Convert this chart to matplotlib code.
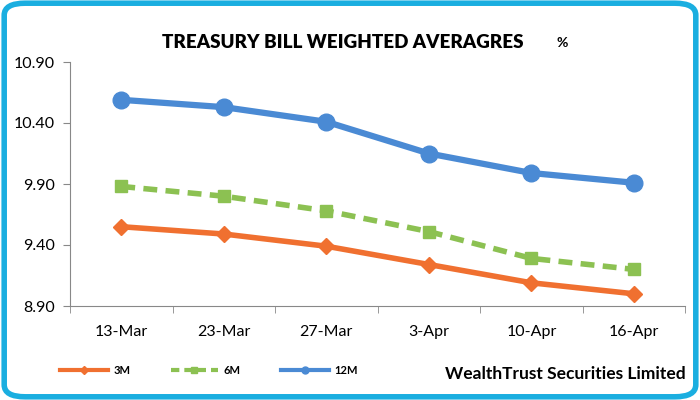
import matplotlib
matplotlib.use("Agg")
import matplotlib.pyplot as plt
from matplotlib.patches import FancyBboxPatch
from matplotlib.lines import Line2D

dates = ["13-Mar", "23-Mar", "27-Mar", "3-Apr", "10-Apr", "16-Apr"]
m3 = [9.55, 9.49, 9.39, 9.24, 9.09, 9.00]
m6 = [9.88, 9.80, 9.68, 9.51, 9.29, 9.20]
m12 = [10.59, 10.53, 10.41, 10.15, 9.99, 9.91]
yticks = [8.90, 9.40, 9.90, 10.40, 10.90]

plt.rcParams['font.family'] = ['Lato', 'DejaVu Sans']

fig = plt.figure(figsize=(7, 4), dpi=100)
fig.patch.set_facecolor("white")
# rounded border
border = FancyBboxPatch((0.006, 0.008), 0.988, 0.984, boxstyle="round,pad=0,rounding_size=0.03",
                        transform=fig.transFigure, fill=False, edgecolor="#1aaee0", linewidth=4)
fig.patches.append(border)

ax = fig.add_axes([0.1, 0.235, 0.879, 0.61])
x = list(range(len(dates)))
orange = "#f07030"
green = "#8cc152"
blue = "#4a8ad4"
ax.plot(x, m3, color=orange, lw=4, marker="D", ms=8, label="3M")
ax.plot(x, m6, color=green, lw=4, ls=(0, (2.5, 1.5)), marker="s", ms=9, label="6M")
ax.plot(x, m12, color=blue, lw=4.5, marker="o", ms=12, label="12M")

ax.set_xlim(-0.5, len(dates) - 0.5)
ax.set_ylim(8.90, 10.90)
ax.set_yticks(yticks)
ax.set_yticklabels([f"{v:.2f}" for v in yticks], fontsize=11.5)
ax.set_xticks(x)
ax.set_xticklabels(dates, fontsize=11.5)
ax.set_xticks([i - 0.5 for i in range(len(dates) + 1)], minor=True)
ax.tick_params(axis="x", which="major", length=0, pad=14)
ax.tick_params(axis="x", which="minor", length=5, color="#888888")
ax.tick_params(axis="y", length=5, color="#888888", pad=6)
for s in ["top", "right"]:
    ax.spines[s].set_visible(False)
for s in ["left", "bottom"]:
    ax.spines[s].set_color("#888888")

fig.text(0.49, 0.895, "TREASURY BILL WEIGHTED AVERAGRES", ha="center", va="center",
         fontsize=13.5, fontweight="heavy")
fig.text(0.803, 0.893, "%", ha="center", va="center", fontsize=10, fontweight="bold")

handles = [
    Line2D([], [], color=orange, lw=3, marker="D", ms=4),
    Line2D([], [], color=green, lw=3, ls=(0, (2, 1.2)), marker="s", ms=5),
    Line2D([], [], color=blue, lw=3, marker="o", ms=5),
]
fig.legend(handles, ["3M", "6M", "12M"], loc="center left", bbox_to_anchor=(0.086, 0.075),
           ncol=3, frameon=False, handlelength=4.3, handletextpad=0.5, columnspacing=3.6,
           borderpad=0, borderaxespad=0,
           prop={"weight": "bold", "size": 8})
fig.text(0.979, 0.065, "WealthTrust Securities Limited", ha="right", va="center",
         fontsize=12.5, fontweight="bold")

fig.savefig("out.png", dpi=100)
